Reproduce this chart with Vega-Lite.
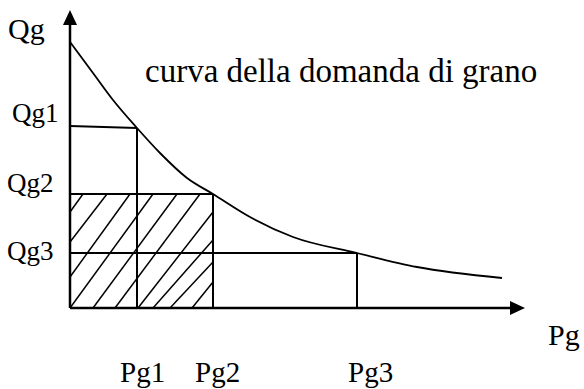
{
  "$schema": "https://vega.github.io/schema/vega-lite/v6.json",
  "width": 584,
  "height": 389,
  "autosize": {"type": "fit", "contains": "padding"},
  "padding": 0,
  "background": "white",
  "config": {"view": {"stroke": null}},
  "datasets": {
    "curve": [
      {"pg": 0.0, "qg": 26.6},
      {"pg": 2.3, "qg": 23.5},
      {"pg": 4.3, "qg": 20.8},
      {"pg": 6.7, "qg": 18.0},
      {"pg": 9.0, "qg": 15.5},
      {"pg": 11.7, "qg": 13.0},
      {"pg": 14.3, "qg": 11.4},
      {"pg": 18.0, "qg": 9.1},
      {"pg": 22.3, "qg": 7.1},
      {"pg": 28.7, "qg": 5.5},
      {"pg": 34.7, "qg": 4.1},
      {"pg": 43.2, "qg": 3.0}
    ],
    "axes": [
      {"pg": 0, "qg": 0, "pg2": 0, "qg2": 28.3},
      {"pg": 0, "qg": 0, "pg2": 44.0, "qg2": 0}
    ],
    "guides": [
      {"pg": 0, "qg": 18.2, "pg2": 6.7, "qg2": 18.0},
      {"pg": 6.7, "qg": 18.0, "pg2": 6.7, "qg2": 0},
      {"pg": 0, "qg": 11.4, "pg2": 14.3, "qg2": 11.4},
      {"pg": 14.3, "qg": 11.4, "pg2": 14.3, "qg2": 0},
      {"pg": 0, "qg": 5.5, "pg2": 28.7, "qg2": 5.5},
      {"pg": 28.7, "qg": 5.5, "pg2": 28.7, "qg2": 0}
    ],
    "hatch": [
      {"pg": 0, "qg": 9.6, "pg2": 1.3, "qg2": 11.4},
      {"pg": 0, "qg": 6.6, "pg2": 3.7, "qg2": 11.4},
      {"pg": 0, "qg": 3.1, "pg2": 6.0, "qg2": 11.4},
      {"pg": 0, "qg": 0, "pg2": 8.3, "qg2": 11.4},
      {"pg": 2.3, "qg": 0, "pg2": 10.7, "qg2": 11.4},
      {"pg": 4.5, "qg": 0, "pg2": 13.0, "qg2": 11.4},
      {"pg": 6.8, "qg": 0, "pg2": 14.3, "qg2": 9.6},
      {"pg": 8.3, "qg": 0, "pg2": 14.3, "qg2": 6.8},
      {"pg": 10.0, "qg": 0, "pg2": 14.3, "qg2": 4.6},
      {"pg": 12.2, "qg": 0, "pg2": 14.3, "qg2": 2.6}
    ],
    "labels": [
      {"pg": -6.2, "qg": 26.9, "text": "Qg", "kind": "axis"},
      {"pg": 47.8, "qg": -3.7, "text": "Pg", "kind": "axis"},
      {"pg": -5.8, "qg": 18.6, "text": "Qg1", "kind": "level"},
      {"pg": -6.3, "qg": 11.6, "text": "Qg2", "kind": "level"},
      {"pg": -6.3, "qg": 4.8, "text": "Qg3", "kind": "level"},
      {"pg": 5.0, "qg": -7.4, "text": "Pg1", "kind": "price"},
      {"pg": 12.5, "qg": -7.4, "text": "Pg2", "kind": "price"},
      {"pg": 27.8, "qg": -7.4, "text": "Pg3", "kind": "price"},
      {"pg": 7.5, "qg": 22.6, "text": "curva della domanda di grano", "kind": "title"}
    ]
  },
  "encoding": {
    "x": {"field": "pg", "type": "quantitative", "scale": {"domain": [-7, 51.4], "nice": false, "zero": false}, "axis": null},
    "y": {"field": "qg", "type": "quantitative", "scale": {"domain": [-8.1, 30.8], "nice": false, "zero": false}, "axis": null}
  },
  "layer": [
    {
      "data": {"name": "hatch"},
      "mark": {"type": "rule", "color": "black", "strokeWidth": 1.5},
      "encoding": {"x2": {"field": "pg2"}, "y2": {"field": "qg2"}}
    },
    {
      "data": {"name": "guides"},
      "mark": {"type": "rule", "color": "black", "strokeWidth": 2},
      "encoding": {"x2": {"field": "pg2"}, "y2": {"field": "qg2"}}
    },
    {
      "data": {"name": "axes"},
      "mark": {"type": "rule", "color": "black", "strokeWidth": 2.5},
      "encoding": {"x2": {"field": "pg2"}, "y2": {"field": "qg2"}}
    },
    {
      "data": {"name": "curve"},
      "mark": {"type": "line", "color": "black", "strokeWidth": 1.8, "interpolate": "monotone"},
      "encoding": {}
    },
    {
      "data": {"values": [{"pg": 0, "qg": 29.05}]},
      "mark": {"type": "point", "shape": "M0,-7.5L-7,7.5L7,7.5Z", "size": 4, "filled": true, "color": "black", "opacity": 1, "strokeWidth": 0}
    },
    {
      "data": {"values": [{"pg": 44.75, "qg": 0}]},
      "mark": {"type": "point", "shape": "M7.5,0L-7.5,-7L-7.5,7Z", "size": 4, "filled": true, "color": "black", "opacity": 1, "strokeWidth": 0}
    },
    {
      "data": {"name": "labels"},
      "transform": [{"filter": "datum.kind === 'axis'"}],
      "mark": {"type": "text", "align": "left", "baseline": "alphabetic", "font": "Liberation Serif", "fontSize": 30, "color": "black"},
      "encoding": {"text": {"field": "text"}}
    },
    {
      "data": {"name": "labels"},
      "transform": [{"filter": "datum.kind === 'level'"}],
      "mark": {"type": "text", "align": "left", "baseline": "alphabetic", "font": "Liberation Serif", "fontSize": 27, "color": "black"},
      "encoding": {"text": {"field": "text"}}
    },
    {
      "data": {"name": "labels"},
      "transform": [{"filter": "datum.kind === 'price'"}],
      "mark": {"type": "text", "align": "left", "baseline": "alphabetic", "font": "Liberation Serif", "fontSize": 29, "color": "black"},
      "encoding": {"text": {"field": "text"}}
    },
    {
      "data": {"name": "labels"},
      "transform": [{"filter": "datum.kind === 'title'"}],
      "mark": {"type": "text", "align": "left", "baseline": "alphabetic", "font": "Liberation Serif", "fontSize": 33, "color": "black"},
      "encoding": {"text": {"field": "text"}}
    }
  ]
}
